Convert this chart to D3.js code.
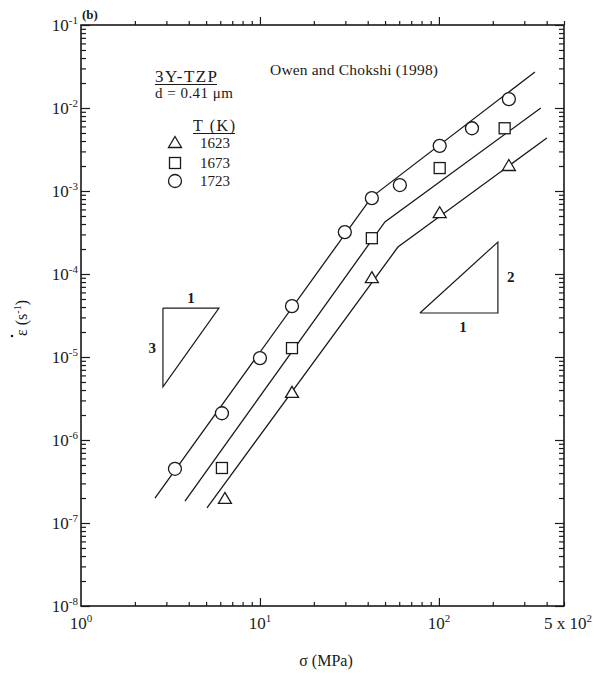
<!DOCTYPE html>
<html><head><meta charset="utf-8">
<script src="https://cdn.jsdelivr.net/npm/d3@7"></script>
<style>body{margin:0;background:#fff}svg{display:block}text{font-family:"Liberation Serif","Times New Roman",serif;fill:#1a1a1a}</style>
</head><body><svg id="c" width="601" height="673"></svg>
<script>
// ---- data ----
const stress1723 = [3.35, 6.13, 10, 15.1, 29.8, 42.2, 60.5, 101, 153, 246];
const rate1723   = [4.5e-7, 2.1e-6, 9.7e-6, 4.1e-5, 3.2e-4, 8.2e-4, 1.18e-3, 3.5e-3, 5.7e-3, 1.28e-2];
const stress1673 = [6.13, 15.1, 42.2, 101, 233];
const rate1673   = [4.6e-7, 1.28e-5, 2.7e-4, 1.89e-3, 5.7e-3];
const stress1623 = [6.37, 15.1, 42.2, 101, 246];
const rate1623   = [1.95e-7, 3.7e-6, 8.9e-5, 5.4e-4, 2.0e-3];
// fitted lines (start, break, end)
const fitStress1723 = [2.59, 42.2, 344];
const fitRate1723   = [2.0e-7, 8.5e-4, 2.72e-2];
const fitStress1673 = [3.81, 49.9, 371];
const fitRate1673   = [1.84e-7, 4.24e-4, 1.0e-2];
const fitStress1623 = [5.06, 59, 401];
const fitRate1623   = [1.52e-7, 2.11e-4, 4.36e-3];
// slope triangles
const tri3Stress = [2.87, 5.90, 2.87, 2.87];
const tri3Rate   = [3.89e-5, 3.89e-5, 4.36e-6, 3.89e-5];
const tri2Stress = [78.3, 213.6, 213.6, 78.3];
const tri2Rate   = [3.39e-5, 3.39e-5, 2.43e-4, 3.39e-5];
const temps = ["1623", "1673", "1723"];
const symbols = ["triangle", "square", "circle"];
const xMajor = [1, 10, 100];
const yMajorExp = [-8, -7, -6, -5, -4, -3, -2, -1];

const svg = d3.select("#c");
const L = 81, R = 564, T = 25, B = 606;
const x = d3.scaleLog().domain([1, 500]).range([L, R]);
const y = d3.scaleLog().domain([1e-8, 1e-1]).range([B, T]);

const ink = "#1a1a1a";
// axes ticks
const xt = x.ticks(), yt = y.ticks();
const xMinor = xt.filter(v => !xMajor.includes(v));
const yMinor = yt.filter(v => Math.abs(Math.log10(v) - Math.round(Math.log10(v))) > 1e-6);
const yMaj = yMajorExp.map(e => Math.pow(10, e));
function ax(gen, tx, ty, vals, size) {
  const g = svg.append("g").attr("transform", `translate(${tx},${ty})`)
    .call(gen.tickValues(vals).tickSize(size).tickSizeOuter(0).tickFormat(""));
  g.selectAll("path.domain").remove();
  g.selectAll("line").attr("stroke", ink).attr("stroke-width", 1.2);
}
ax(d3.axisBottom(x), 0, B, xMinor, -4);
ax(d3.axisBottom(x), 0, B, [10, 100], -8);
ax(d3.axisTop(x), 0, T, xMinor, 4);
ax(d3.axisTop(x), 0, T, [10, 100], 8);
ax(d3.axisLeft(y), L, 0, yMinor, -5);
ax(d3.axisLeft(y), L, 0, yMaj, -9);
ax(d3.axisRight(y), R, 0, yMinor, -5);
ax(d3.axisRight(y), R, 0, yMaj, -9);
svg.append("rect").attr("x", L).attr("y", T).attr("width", R - L).attr("height", B - T)
  .attr("fill", "none").attr("stroke", ink).attr("stroke-width", 1.6);

// tick labels
yMajorExp.forEach(e => {
  const t = svg.append("text").attr("x", 78).attr("y", y(Math.pow(10, e)) + 6)
    .attr("text-anchor", "end").attr("font-size", 17);
  t.append("tspan").text("10");
  t.append("tspan").attr("font-size", 11).attr("dy", -7).text(String(e));
});
xMajor.forEach((v, i) => {
  const t = svg.append("text").attr("x", x(v)).attr("y", 629).attr("text-anchor", "middle").attr("font-size", 17);
  t.append("tspan").text("10");
  t.append("tspan").attr("font-size", 11).attr("dy", -7).text(String(i));
});
{
  const t = svg.append("text").attr("x", 592).attr("y", 629).attr("text-anchor", "end").attr("font-size", 17);
  t.append("tspan").text("5 x 10");
  t.append("tspan").attr("font-size", 11).attr("dy", -7).text("2");
}
// axis titles
svg.append("text").attr("x", 326).attr("y", 666).attr("text-anchor", "middle").attr("font-size", 16).text("σ (MPa)");
{
  const g = svg.append("g").attr("transform", "translate(27,318) rotate(-90)");
  const t = g.append("text").attr("text-anchor", "middle").attr("font-size", 16);
  t.append("tspan").text("ε (s");
  t.append("tspan").attr("font-size", 10).attr("dy", -6).text("-1");
  t.append("tspan").attr("dy", 6).text(")");
  g.append("circle").attr("cx", -18).attr("cy", -15).attr("r", 1.3).attr("fill", ink);
}

// fitted lines
const line = d3.line().x(d => x(d[0])).y(d => y(d[1]));
[[fitStress1723, fitRate1723], [fitStress1673, fitRate1673], [fitStress1623, fitRate1623]].forEach(([s, r]) => {
  svg.append("path").attr("d", line(s.map((v, i) => [v, r[i]])))
    .attr("fill", "none").attr("stroke", ink).attr("stroke-width", 1.3);
});
// slope triangles
[[tri3Stress, tri3Rate], [tri2Stress, tri2Rate]].forEach(([s, r]) => {
  svg.append("path").attr("d", line(s.map((v, i) => [v, r[i]])))
    .attr("fill", "none").attr("stroke", ink).attr("stroke-width", 1.2);
});
svg.append("text").attr("x", (x(tri3Stress[0]) + x(tri3Stress[1])) / 2).attr("y", y(tri3Rate[0]) - 5)
  .attr("text-anchor", "middle").attr("font-size", 15).attr("font-weight", "bold").text("1");
svg.append("text").attr("x", x(tri3Stress[0]) - 7).attr("y", (y(tri3Rate[0]) + y(tri3Rate[2])) / 2 + 6)
  .attr("text-anchor", "end").attr("font-size", 15).attr("font-weight", "bold").text("3");
svg.append("text").attr("x", x(tri2Stress[1]) + 9).attr("y", (y(tri2Rate[1]) + y(tri2Rate[2])) / 2 + 5)
  .attr("font-size", 15).attr("font-weight", "bold").text("2");
svg.append("text").attr("x", (x(tri2Stress[0]) + x(tri2Stress[1])) / 2 + 4).attr("y", y(tri2Rate[0]) + 19)
  .attr("text-anchor", "middle").attr("font-size", 15).attr("font-weight", "bold").text("1");

// markers
function marker(g, type, cx, cy) {
  if (type === "circle") g.append("circle").attr("cx", cx).attr("cy", cy).attr("r", 6.5);
  else if (type === "square") g.append("rect").attr("x", cx - 5.5).attr("y", cy - 5.5).attr("width", 11).attr("height", 11);
  else g.append("path").attr("d", `M${cx},${cy - 6.5}L${cx + 6.5},${cy + 4.5}L${cx - 6.5},${cy + 4.5}Z`);
}
const mg = svg.append("g").attr("fill", "#fff").attr("stroke", ink).attr("stroke-width", 1.3);
[[stress1623, rate1623], [stress1673, rate1673], [stress1723, rate1723]].forEach(([s, r], k) => {
  s.forEach((v, i) => marker(mg, symbols[k], x(v), y(r[i])));
});

// annotations
svg.append("text").attr("x", 82).attr("y", 19).attr("font-size", 13).attr("font-weight", "bold").text("(b)");
svg.append("text").attr("x", 155).attr("y", 82).attr("font-size", 17).attr("textLength", 62).text("3Y-TZP");
svg.append("line").attr("x1", 155).attr("x2", 217).attr("y1", 84.5).attr("y2", 84.5).attr("stroke", ink).attr("stroke-width", 1.2);
svg.append("text").attr("x", 155).attr("y", 98).attr("font-size", 15).attr("textLength", 78).text("d = 0.41 μm");
svg.append("text").attr("x", 193).attr("y", 131).attr("font-size", 16).attr("textLength", 42).text("T (K)");
svg.append("line").attr("x1", 193).attr("x2", 235).attr("y1", 133.5).attr("y2", 133.5).attr("stroke", ink).attr("stroke-width", 1.2);
const lg = svg.append("g").attr("fill", "#fff").attr("stroke", ink).attr("stroke-width", 1.3);
temps.forEach((t, i) => {
  const yy = [143, 163, 181][i];
  marker(lg, symbols[i], 175, yy);
  svg.append("text").attr("x", 200).attr("y", yy + 5).attr("font-size", 15).text(t);
});
svg.append("text").attr("x", 270).attr("y", 75).attr("font-size", 15.5).attr("textLength", 168).text("Owen and Chokshi (1998)");
</script></body></html>
